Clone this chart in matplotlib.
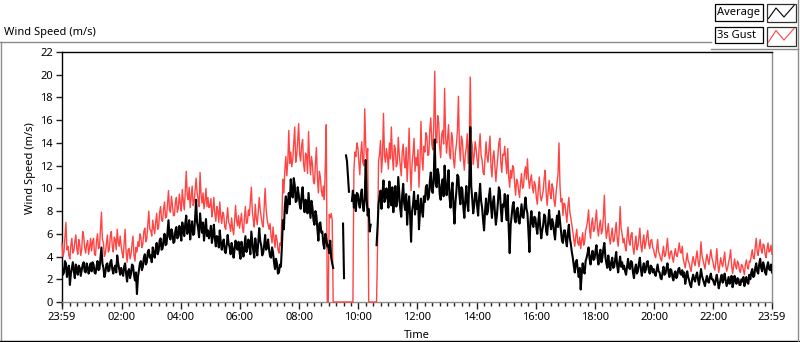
import numpy as np
import matplotlib
matplotlib.use("Agg")
import matplotlib.pyplot as plt
from matplotlib.patches import Rectangle
from matplotlib.lines import Line2D

nan = float("nan")

# ---------------- data (2-minute samples, one row per hour from 23:59) -------------
start_clock = "23:59"

average_rows = [
    [3.1, 2.4, 2.6, 3.6, 3.4, 2.2, 2.8, 3.2, 1.5, 2.5, 3.0, 3.5, 2.7, 2.1, 3.3, 2.9, 2.4, 3.2, 3.0, 2.3, 2.8, 3.3, 3.5, 2.7, 2.6, 3.4, 3.1, 2.5, 2.9, 3.4],
    [2.7, 3.5, 3.3, 2.6, 2.5, 3.1, 3.6, 2.8, 2.9, 3.9, 4.8, 3.4, 3.0, 2.2, 2.6, 3.3, 3.4, 2.7, 2.8, 3.5, 3.7, 2.9, 2.5, 3.0, 3.2, 2.6, 4.1, 3.4, 2.9, 2.4],
    [3.0, 2.6, 2.3, 3.1, 3.4, 2.5, 1.8, 2.7, 2.9, 2.1, 2.5, 3.3, 3.2, 2.4, 1.9, 2.6, 0.7, 2.2, 2.8, 3.4, 3.6, 2.8, 3.1, 3.9, 4.2, 3.3, 3.5, 4.4, 4.6, 3.9],
    [4.1, 3.5, 4.8, 4.3, 3.9, 4.7, 5.2, 4.2, 4.5, 5.4, 5.6, 4.6, 4.7, 5.5, 6.0, 5.0, 5.1, 6.2, 7.2, 5.7, 5.5, 6.4, 6.1, 5.2, 5.3, 6.3, 6.6, 5.6, 5.8, 6.7],
    [6.2, 5.4, 7.0, 6.3, 5.8, 6.9, 7.6, 6.0, 6.4, 7.2, 5.5, 6.6, 7.1, 5.9, 6.0, 7.4, 9.0, 7.0, 6.5, 5.7, 7.8, 6.8, 6.1, 7.0, 5.4, 6.4, 7.3, 5.8, 6.3, 5.6],
    [6.0, 6.7, 5.2, 5.9, 6.8, 5.6, 4.9, 5.8, 5.7, 4.8, 6.3, 5.3, 4.6, 5.2, 5.5, 4.5, 4.3, 5.0, 5.9, 5.1, 4.8, 4.2, 5.2, 4.7, 3.9, 4.6, 5.4, 4.8, 4.6, 5.3],
    [4.4, 3.8, 5.3, 4.6, 4.0, 4.9, 5.8, 4.4, 4.7, 5.5, 5.1, 4.2, 6.2, 5.3, 4.5, 3.9, 5.6, 4.8, 4.1, 5.2, 6.5, 5.4, 5.0, 4.1, 4.3, 5.0, 5.9, 4.6, 4.8, 5.5],
    [4.6, 4.0, 3.9, 4.8, 4.4, 3.5, 2.9, 3.8, 3.4, 2.5, 2.6, 3.3, 3.1, 4.9, 7.2, 6.4, 8.5, 9.3, 7.8, 8.7, 9.6, 8.6, 10.8, 9.5, 9.2, 10.9, 10.3, 8.8, 8.9, 10.1],
    [9.5, 8.6, 8.2, 9.4, 10.1, 8.7, 7.9, 9.0, 8.8, 7.8, 9.6, 8.5, 7.4, 8.9, 8.3, 7.2, 6.8, 8.0, 7.6, 6.4, 5.4, 6.9, 7.0, 6.1, 6.2, 5.1, 4.7, 6.0, 5.6, 4.9],
    [5.0, 4.3, 5.4, 3.9, 3.4, 3.0, nan, nan, nan, nan, nan, nan, nan, nan, nan, 6.9, 2.1, nan, 12.9, 12.4, 11.0, 9.7, nan, nan, 8.9, 9.8, 8.3, 9.4, 8.0, 9.6],
    [9.5, 8.7, 8.3, 9.4, 9.9, 8.5, 8.0, 9.1, 12.5, 9.0, 7.6, 8.2, 6.2, 6.8, nan, nan, nan, nan, nan, 5.0, 6.6, 8.6, 9.3, 9.8, 8.2, 9.6, 10.7, 8.8, 9.1, 10.0],
    [9.4, 8.3, 10.6, 9.0, 8.5, 10.1, 7.9, 9.2, 10.2, 8.4, 8.8, 11.0, 9.6, 8.2, 7.5, 9.4, 10.4, 8.7, 8.1, 9.5, 6.8, 8.4, 9.3, 7.6, 5.3, 8.0, 8.6, 9.7, 7.7, 8.9],
    [8.2, 9.4, 6.4, 7.9, 9.1, 8.0, 7.5, 9.3, 8.8, 10.1, 10.3, 9.0, 9.2, 10.6, 11.4, 9.8, 9.6, 11.1, 14.3, 10.4, 10.1, 11.7, 11.2, 9.5, 9.0, 10.3, 10.8, 9.3, 12.0, 10.4],
    [9.4, 10.3, 11.6, 9.2, 8.3, 9.7, 10.5, 8.4, 6.9, 8.8, 9.8, 11.2, 11.0, 9.4, 8.6, 10.1, 9.9, 8.3, 7.4, 9.0, 10.2, 8.7, 8.0, 10.6, 15.4, 10.2, 9.1, 7.8, 8.5, 9.6],
    [9.6, 8.4, 7.6, 9.2, 10.4, 8.9, 8.3, 7.2, 6.3, 8.0, 9.1, 7.7, 8.0, 9.3, 10.0, 8.5, 7.4, 8.8, 9.3, 7.9, 6.8, 7.6, 8.7, 10.1, 9.8, 8.2, 7.1, 8.6, 8.4, 9.5],
    [8.1, 7.2, 9.4, 6.5, 4.3, 6.8, 7.6, 8.5, 8.8, 7.3, 7.0, 8.1, 8.3, 7.1, 6.9, 7.8, 8.6, 7.5, 7.4, 8.4, 9.2, 8.2, 7.8, 6.2, 4.4, 7.1, 8.0, 6.9, 6.6, 7.5],
    [7.4, 6.6, 6.0, 7.1, 7.9, 6.5, 5.6, 6.3, 6.8, 7.7, 7.5, 6.2, 5.9, 7.0, 8.1, 6.9, 6.4, 7.3, 7.0, 6.1, 5.5, 6.8, 7.6, 6.6, 8.0, 7.1, 6.1, 5.4, 5.2, 6.3],
    [6.3, 5.4, 4.9, 6.1, 6.8, 5.6, 5.1, 4.4, 3.9, 3.2, 2.6, 3.5, 3.7, 2.9, 2.2, 3.0, 1.1, 2.4, 3.4, 2.7, 2.5, 3.6, 3.9, 4.3, 4.8, 3.8, 3.3, 4.1, 4.5, 3.7],
    [3.8, 4.5, 5.0, 3.9, 3.3, 4.2, 4.6, 3.5, 3.9, 4.7, 5.2, 4.0, 3.4, 3.0, 4.1, 3.3, 2.8, 3.5, 3.9, 3.0, 3.1, 3.8, 4.4, 3.2, 2.6, 3.4, 4.0, 3.1, 3.5, 2.9],
    [3.2, 2.7, 2.4, 3.1, 3.8, 3.0, 2.9, 3.6, 3.5, 2.6, 2.1, 2.9, 3.3, 2.5, 2.7, 3.4, 3.9, 2.9, 2.3, 3.0, 3.4, 2.6, 2.8, 3.5, 3.6, 2.8, 2.5, 3.2, 3.1, 2.6],
    [2.9, 2.5, 2.3, 2.8, 3.3, 2.7, 2.6, 2.1, 2.0, 2.6, 3.1, 2.4, 2.5, 3.0, 3.4, 2.6, 2.2, 2.9, 2.8, 2.2, 1.9, 2.5, 2.7, 2.1, 2.3, 2.9, 3.0, 2.5, 2.4, 2.8],
    [2.2, 2.6, 1.6, 2.1, 2.7, 2.2, 1.9, 1.5, 1.3, 2.0, 2.4, 2.0, 1.8, 2.3, 2.6, 2.0, 1.5, 2.2, 2.9, 2.3, 2.0, 1.7, 1.4, 1.9, 2.3, 1.8, 1.7, 2.2, 2.5, 2.0],
    [2.0, 1.7, 1.5, 2.0, 2.4, 1.8, 1.2, 1.6, 2.1, 2.4, 1.7, 2.0, 2.5, 1.9, 1.4, 1.8, 2.2, 1.6, 1.8, 2.3, 1.3, 1.7, 2.3, 1.9, 1.6, 2.1, 2.0, 1.5, 1.5, 2.0],
    [1.8, 2.2, 1.4, 1.9, 2.2, 1.7, 1.6, 2.4, 2.0, 2.6, 2.9, 2.2, 2.3, 3.0, 3.4, 2.7, 2.5, 3.3, 3.8, 3.0, 2.7, 3.5, 3.2, 2.6, 2.4, 3.1, 3.5, 2.9, 2.8, 3.3],
]
average_last = 2.6

gust_rows = [
    [5.2, 4.0, 4.4, 5.7, 7.0, 4.6, 4.9, 4.1, 3.8, 5.0, 5.6, 4.3, 4.5, 5.3, 5.9, 4.7, 4.2, 5.5, 5.0, 4.1, 4.6, 6.2, 5.8, 4.8, 4.3, 5.1, 5.4, 4.2, 4.8, 5.6],
    [4.5, 5.3, 5.6, 4.2, 4.1, 5.4, 6.0, 4.7, 4.8, 6.3, 7.9, 5.5, 5.2, 4.0, 4.3, 5.1, 5.9, 4.4, 4.6, 5.8, 6.2, 4.9, 4.4, 5.7, 5.5, 4.6, 6.4, 5.3, 4.9, 5.8],
    [4.9, 4.3, 3.9, 5.2, 6.4, 4.4, 3.5, 4.6, 4.7, 3.8, 4.2, 5.1, 5.8, 4.1, 3.6, 4.8, 4.4, 5.3, 4.9, 6.0, 5.7, 4.8, 5.1, 6.2, 6.5, 5.3, 5.6, 6.8, 8.0, 6.4],
    [6.3, 5.8, 7.2, 6.5, 6.0, 7.0, 7.8, 6.4, 6.6, 7.9, 8.4, 7.2, 7.1, 8.2, 8.8, 7.4, 7.5, 8.6, 9.8, 8.1, 7.9, 9.3, 8.5, 7.6, 7.6, 8.8, 9.2, 7.9, 8.3, 9.5],
    [8.6, 8.0, 9.9, 8.9, 8.1, 9.7, 11.5, 9.4, 9.0, 10.1, 8.3, 9.2, 10.2, 8.5, 8.8, 9.8, 10.9, 9.6, 9.1, 8.4, 11.4, 9.5, 8.7, 9.6, 8.2, 8.9, 10.0, 8.4, 9.2, 8.3],
    [8.4, 9.1, 7.5, 8.1, 9.2, 7.8, 7.1, 8.4, 8.0, 7.0, 8.8, 7.6, 6.9, 7.9, 7.7, 6.6, 6.4, 7.3, 8.3, 7.0, 6.8, 6.2, 7.4, 6.5, 5.9, 7.1, 8.5, 7.2, 6.7, 7.6],
    [6.5, 7.1, 7.8, 6.6, 6.1, 7.4, 8.4, 6.9, 7.0, 8.1, 7.6, 8.8, 10.1, 8.0, 7.2, 6.6, 8.6, 7.4, 6.8, 7.9, 9.2, 8.1, 7.5, 6.9, 6.6, 8.3, 10.0, 8.2, 7.3, 6.8],
    [6.4, 6.9, 5.8, 5.2, 6.6, 5.6, 4.8, 5.9, 5.5, 4.6, 4.3, 5.2, 5.0, 7.5, 10.8, 9.6, 11.6, 12.8, 11.1, 12.4, 15.1, 12.2, 13.2, 11.9, 12.5, 14.0, 15.4, 12.3, 12.9, 14.2],
    [15.7, 13.0, 12.4, 13.8, 14.3, 12.1, 11.5, 13.1, 12.9, 11.3, 15.0, 12.6, 11.2, 12.8, 12.1, 10.6, 10.4, 12.2, 13.6, 10.9, 9.6, 11.5, 11.0, 9.8, 9.3, 10.2, 9.0, 12.0, 15.6, 0.0],
    [0.0, 7.7, 7.4, 7.8, 7.2, 0.0, 0.0, 0.0, 0.0, 0.0, 0.0, 0.0, 0.0, 0.0, 0.0, 0.0, 0.0, 0.0, 0.0, 0.0, 0.0, 0.0, 0.0, 0.0, 0.0, 0.0, 11.5, 13.2, 12.8, 14.0],
    [13.6, 12.4, 11.2, 13.0, 14.1, 12.3, 12.0, 17.0, 13.8, 12.6, 13.5, 0.0, 0.0, 0.0, 0.0, 0.0, 0.0, 0.0, 0.0, 0.0, 4.9, 12.4, 13.0, 14.2, 11.4, 12.7, 16.6, 12.9, 12.3, 13.5],
    [12.8, 11.7, 14.0, 12.6, 15.4, 12.9, 11.6, 13.8, 13.5, 11.9, 12.2, 14.5, 13.0, 12.0, 11.1, 13.2, 13.9, 12.4, 11.8, 13.6, 10.6, 12.5, 15.3, 11.9, 9.8, 12.2, 13.1, 14.4, 11.5, 12.7],
    [12.0, 13.4, 10.1, 12.2, 15.9, 12.8, 11.6, 13.7, 13.2, 14.9, 14.6, 12.9, 13.0, 15.2, 16.2, 13.9, 13.4, 15.6, 20.3, 14.4, 14.0, 16.4, 15.8, 13.6, 12.7, 14.7, 15.1, 13.9, 18.8, 14.6],
    [13.1, 14.3, 15.6, 13.0, 12.6, 14.9, 14.4, 12.5, 11.8, 13.2, 13.9, 15.1, 18.1, 13.7, 12.4, 14.6, 14.2, 12.7, 11.6, 13.0, 13.6, 14.8, 12.2, 14.0, 19.8, 14.3, 13.8, 12.1, 12.9, 14.1],
    [13.4, 12.5, 11.8, 13.6, 14.8, 12.9, 12.5, 11.4, 11.2, 12.6, 14.1, 12.8, 12.3, 13.5, 14.6, 12.0, 11.0, 12.7, 13.3, 11.9, 10.6, 11.8, 12.8, 14.0, 14.4, 12.3, 11.4, 13.0, 12.9, 13.7],
    [12.4, 11.3, 13.5, 11.0, 10.1, 11.6, 10.9, 12.0, 11.8, 10.4, 9.4, 10.8, 10.6, 9.8, 9.2, 10.5, 11.3, 10.0, 10.2, 11.4, 11.9, 10.8, 12.6, 10.9, 10.0, 10.7, 11.2, 10.1, 9.6, 10.6],
    [10.3, 9.2, 8.6, 9.9, 11.0, 9.4, 8.9, 9.3, 9.8, 10.9, 11.6, 9.6, 8.5, 9.7, 10.7, 9.5, 9.1, 10.4, 10.0, 8.9, 8.4, 9.6, 10.5, 11.3, 14.0, 10.2, 8.8, 9.1, 7.6, 8.7],
    [8.6, 7.8, 7.0, 8.4, 9.2, 7.9, 7.4, 6.8, 6.2, 5.5, 4.9, 5.8, 6.4, 5.2, 5.0, 5.7, 4.7, 5.4, 6.1, 5.0, 5.3, 6.3, 6.6, 7.2, 8.1, 6.4, 5.6, 6.9, 7.4, 6.2],
    [6.4, 7.2, 8.1, 6.5, 5.8, 6.7, 7.2, 6.0, 6.3, 7.5, 9.4, 6.8, 5.6, 6.2, 6.9, 5.7, 5.1, 5.9, 6.5, 5.3, 5.4, 6.2, 7.0, 5.6, 4.9, 6.1, 8.4, 6.5, 6.0, 5.2],
    [5.6, 4.9, 4.5, 5.7, 6.6, 5.3, 5.0, 5.9, 6.1, 4.8, 4.2, 5.1, 5.8, 4.6, 4.9, 5.6, 6.5, 5.0, 4.4, 5.3, 5.9, 4.7, 5.2, 5.8, 6.3, 5.1, 4.7, 5.4, 5.5, 4.8],
    [4.6, 4.1, 3.9, 4.7, 5.5, 4.4, 4.2, 3.8, 3.6, 4.3, 4.9, 4.0, 4.1, 4.8, 5.6, 4.3, 3.8, 4.4, 4.5, 3.9, 3.5, 4.2, 4.7, 4.1, 4.0, 4.6, 5.2, 4.4, 4.3, 4.9],
    [3.8, 3.4, 3.0, 3.7, 4.3, 3.6, 3.4, 3.0, 2.7, 3.5, 4.0, 3.5, 3.2, 3.9, 4.5, 3.6, 3.1, 3.8, 5.3, 4.1, 3.7, 3.3, 2.9, 3.6, 4.2, 3.7, 3.3, 4.0, 4.6, 3.9],
    [3.6, 3.1, 2.8, 3.5, 4.7, 3.4, 2.6, 3.2, 3.9, 3.4, 3.1, 3.7, 4.4, 3.3, 2.7, 3.0, 3.5, 3.9, 4.6, 3.3, 2.5, 3.1, 3.8, 3.2, 2.9, 3.6, 3.4, 2.8, 2.6, 3.3],
    [3.2, 2.8, 2.4, 3.3, 3.7, 3.1, 2.9, 3.6, 3.5, 4.1, 4.6, 3.9, 3.8, 4.8, 5.6, 4.4, 4.1, 4.9, 5.5, 4.6, 4.3, 5.1, 5.0, 4.2, 3.9, 4.7, 5.2, 4.4, 4.5, 5.0],
]
gust_last = 4.2

tick_labels = ["23:59", "02:00", "04:00", "06:00", "08:00", "10:00", "12:00",
               "14:00", "16:00", "18:00", "20:00", "22:00", "23:59"]
y_ticks = [0, 2, 4, 6, 8, 10, 12, 14, 16, 18, 20, 22]

series_names = ["Average", "3s Gust"]
title_text = "Wind Speed (m/s)"
y_label = "Wind Speed (m/s)"
x_label = "Time"


# ---------------- build series -------------
def flatten(rows, last):
    t, v = [], []
    for h, row in enumerate(rows):
        n = len(row)
        for j, val in enumerate(row):
            t.append(h * 60 + j * 60.0 / n)
            v.append(val)
    t.append(len(rows) * 60.0)
    v.append(last)
    return np.array(t), np.array(v)


t_avg, average = flatten(average_rows, average_last)
t_gust, gust = flatten(gust_rows, gust_last)
span = 24 * 60


def clock_to_offset(label, idx):
    h, m = map(int, label.split(":"))
    sh, sm = map(int, start_clock.split(":"))
    off = (h * 60 + m - (sh * 60 + sm)) % 1440
    if off == 0 and idx > 0:
        off = span
    return off


tick_pos = [clock_to_offset(l, i) for i, l in enumerate(tick_labels)]

# ---------------- figure -------------
W, H = 800, 342
plt.rcParams["font.family"] = ["Noto Sans", "DejaVu Sans"]
fig = plt.figure(figsize=(W / 100, H / 100), dpi=100)
fig.patch.set_facecolor("white")


def fx(x):
    return x / W


def fy(y):
    return 1 - y / H


L, R, T, B = 62, 772, 52, 302
ax = fig.add_axes([fx(L), fy(B), (R - L) / W, (B - T) / H])
ax.set_facecolor("white")

RED = "#ff4444"
ax.plot(t_gust, gust, color=RED, lw=1.0, zorder=3, clip_on=False)
ax.plot(t_avg, average, color="black", lw=1.5, zorder=4)

ax.set_xlim(0, span)
ax.set_ylim(0, 22)
ax.set_xticks(tick_pos)
ax.set_xticklabels(tick_labels)
minor = [m for m in range(1, span, 15) if m not in tick_pos]
ax.set_xticks(minor, minor=True)
ax.set_yticks(y_ticks)

ax.tick_params(axis="x", which="major", length=5, width=1, pad=2.5,
               labelsize=8, colors="#202020", labelcolor="black")
ax.tick_params(axis="x", which="minor", length=3, width=1, colors="#202020")
ax.tick_params(axis="y", which="major", length=4, width=1, pad=2.5,
               labelsize=8, colors="#202020", labelcolor="black")

for side in ("top", "left"):
    ax.spines[side].set_color("black")
    ax.spines[side].set_linewidth(1.0)
for side in ("bottom", "right"):
    ax.spines[side].set_color("#8c8c8c")
    ax.spines[side].set_linewidth(1.0)

# axis labels
fig.text(fx(417), fy(335), x_label, ha="center", va="center", fontsize=8)
fig.text(fx(31), fy(168), y_label, ha="center", va="center", rotation=90, fontsize=8)

# title
fig.text(fx(4), fy(32.5), title_text, ha="left", va="center", fontsize=8)

# outer frame
frame_col = "#8c8c8c"
fig.add_artist(Line2D([fx(0), fx(711)], [fy(42), fy(42)], color=frame_col, lw=1.0))
fig.add_artist(Line2D([fx(0.7), fx(0.7)], [fy(42), fy(342)], color=frame_col, lw=1.0))
fig.add_artist(Line2D([fx(0), fx(800)], [fy(341), fy(341)], color="black", lw=1.0))
fig.add_artist(Line2D([fx(798), fx(798)], [fy(0), fy(342)], color=frame_col, lw=1.0))
fig.add_artist(Line2D([fx(711), fx(798)], [fy(49), fy(49)], color=frame_col, lw=1.0))

# legend
legend_rows = [(4.3, 20.7, 22.3, "black", [(768.5, 18.5), (776, 8), (784, 17), (794, 5.5)]),
               (27.3, 43.3, 45.7, RED, [(768.5, 42), (776, 30.5), (784, 40), (794, 28.5)])]
for name, (y0, y1, y2, col, pts) in zip(series_names, legend_rows):
    fig.add_artist(Rectangle((fx(715.3), fy(y1)), (762.7 - 715.3) / W, (y1 - y0) / H,
                             transform=fig.transFigure, facecolor="white",
                             edgecolor="black", lw=0.9))
    fig.text(fx(717), fy((y0 + y1) / 2 + 0.3), name, ha="left", va="center", fontsize=8)
    fig.add_artist(Rectangle((fx(767.3), fy(y2)), (795.7 - 767.3) / W, (y2 - y0) / H,
                             transform=fig.transFigure, facecolor="white",
                             edgecolor="#303030", lw=0.9))
    fig.add_artist(Line2D([fx(p[0]) for p in pts], [fy(p[1]) for p in pts],
                          color=col, lw=0.8))

fig.savefig("out.png", dpi=100, facecolor="white")
